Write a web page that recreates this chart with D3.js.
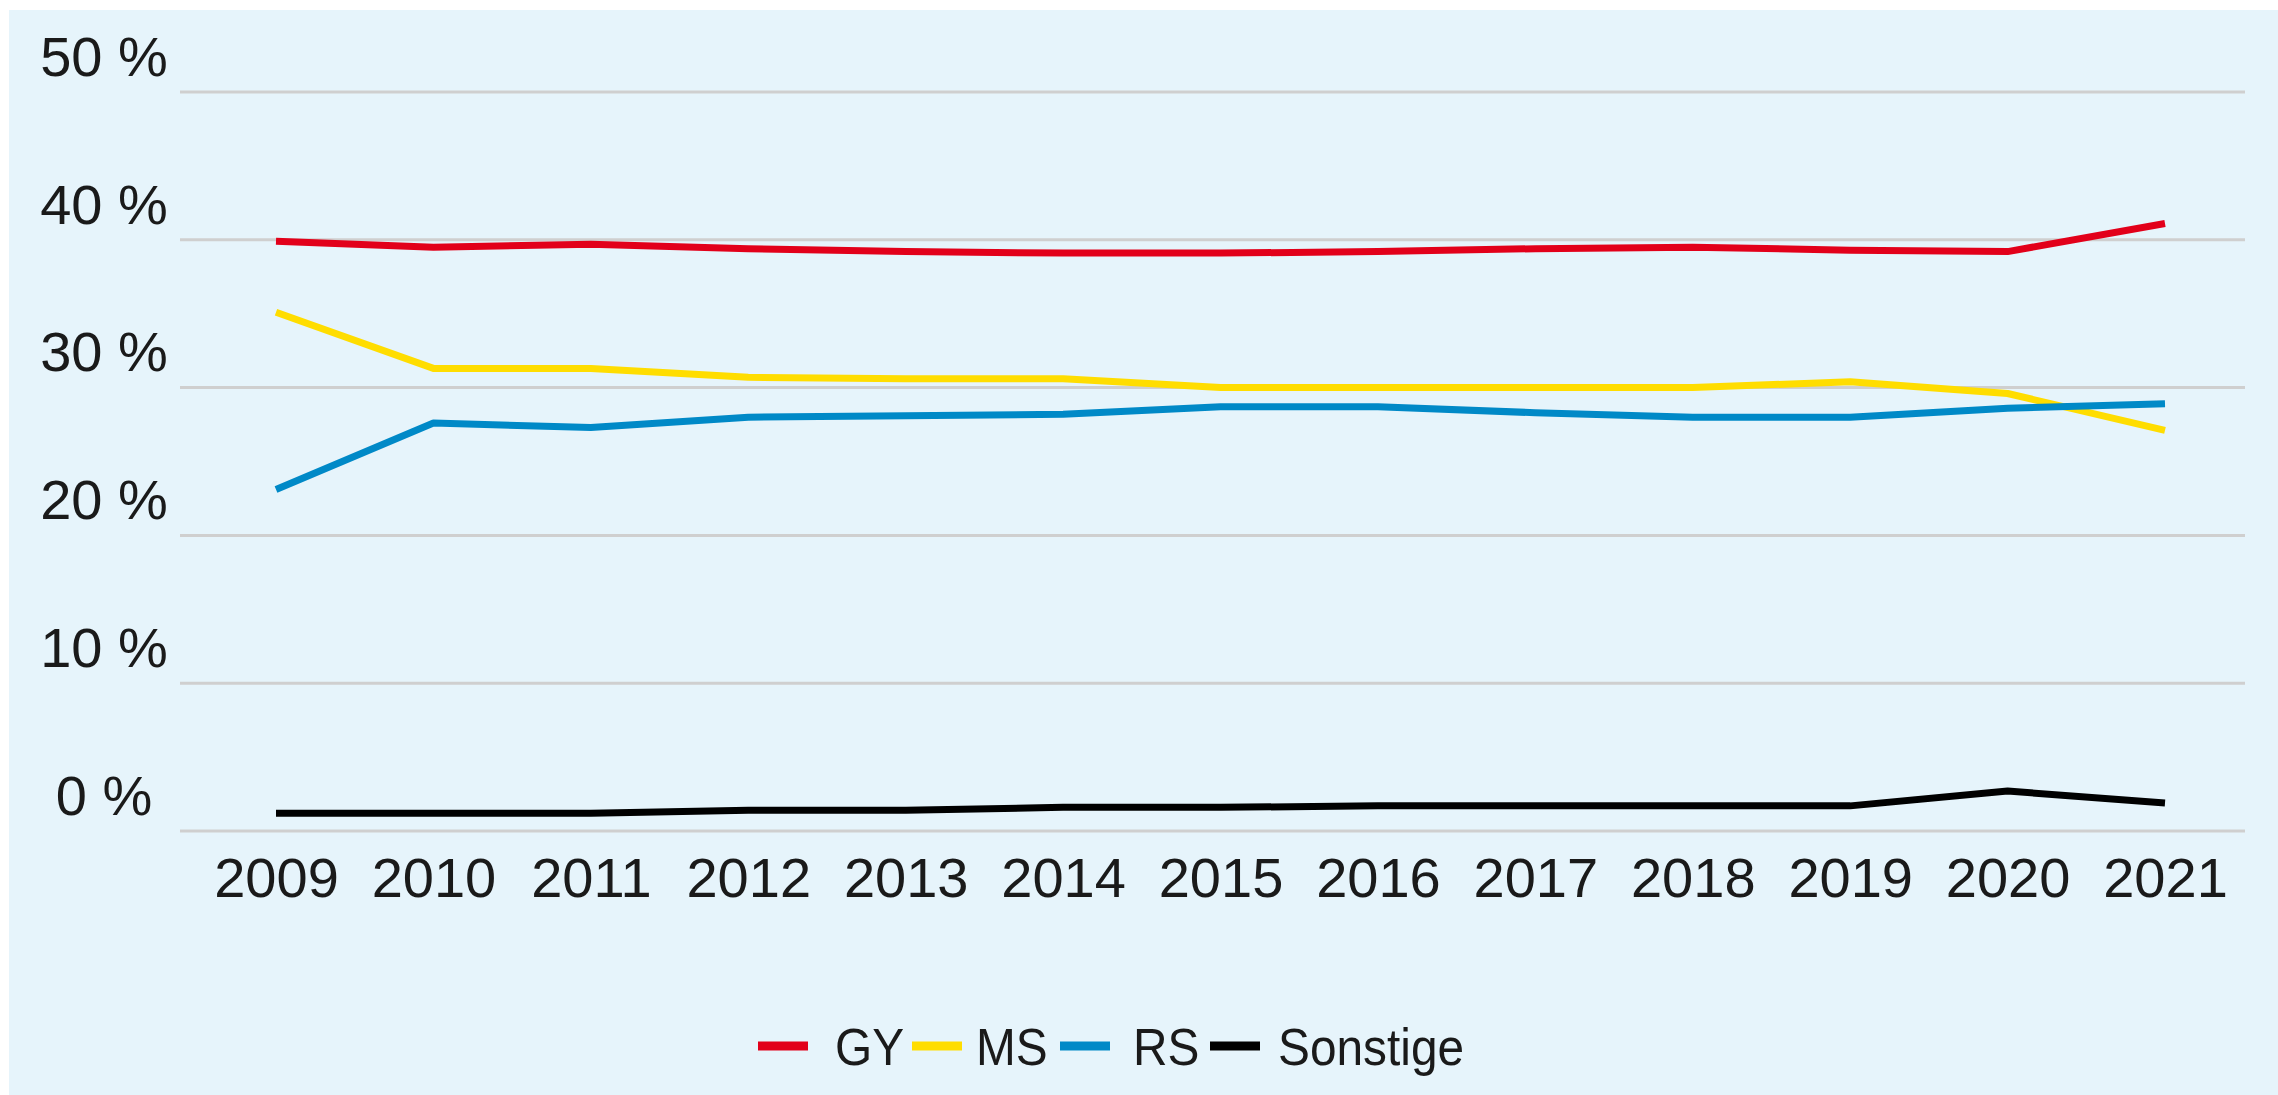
<!DOCTYPE html>
<html>
  <head>
    <title>Schularten</title>
    <script src="https://cdn.jsdelivr.net/npm/d3@7"></script>
    <style>
      body { margin: 0; background: #fff; }
      text { font-family: 'Liberation Sans', Arial, sans-serif; fill: #1a1a1a; }
    </style>
  </head>
  <body>
    <svg width="2278" height="1095" id="mainsvg"></svg>
    <script>
        const years = [2009, 2010, 2011, 2012, 2013, 2014, 2015, 2016, 2017, 2018, 2019, 2020, 2021];
        const gy = [39.9, 39.5, 39.7, 39.4, 39.2, 39.1, 39.1, 39.2, 39.4, 39.5, 39.3, 39.2, 41.1];
        const ms = [35.1, 31.3, 31.3, 30.7, 30.6, 30.6, 30.0, 30.0, 30.0, 30.0, 30.4, 29.6, 27.1];
        const rs = [23.1, 27.6, 27.3, 28.0, 28.1, 28.2, 28.7, 28.7, 28.3, 28.0, 28.0, 28.6, 28.9];
        const sonstige = [1.2, 1.2, 1.2, 1.4, 1.4, 1.6, 1.6, 1.7, 1.7, 1.7, 1.7, 2.7, 1.9];
        const yTicks = [0, 10, 20, 30, 40, 50];

        const series = [
          {name: 'GY', values: gy, color: '#e2001a'},
          {name: 'MS', values: ms, color: '#ffdd00'},
          {name: 'RS', values: rs, color: '#0089c7'},
          {name: 'Sonstige', values: sonstige, color: '#000000'}
        ];

        const svg = d3.select('#mainsvg');
        const width = +svg.attr('width');
        const height = +svg.attr('height');

        // light blue panel
        svg.append('rect').attr('x', 9).attr('y', 10)
          .attr('width', width - 9).attr('height', height - 10)
          .attr('fill', '#e6f4fb');

        const margin = {top: 92, right: 33, bottom: 264, left: 180};
        const innerWidth = width - margin.left - margin.right;
        const innerHeight = height - margin.top - margin.bottom;

        const g = svg.append('g')
          .attr('transform', `translate(${margin.left}, ${margin.top})`);

        const xScale = d3.scalePoint()
          .domain(years)
          .range([96, innerWidth - 80]);

        const yScale = d3.scaleLinear()
          .domain([0, 50])
          .range([innerHeight, 0]);

        // gridlines
        g.append('g').selectAll('line').data(yTicks).join('line')
          .attr('x1', 0).attr('x2', innerWidth)
          .attr('y1', d => yScale(d)).attr('y2', d => yScale(d))
          .attr('stroke', '#cfcfcf').attr('stroke-width', 3);

        // y axis: labels centred in the left margin, above their gridlines
        const yAxis = d3.axisLeft(yScale).tickValues(yTicks)
          .tickSize(0).tickPadding(0).tickFormat(d => d + ' %');
        const yg = g.append('g').call(yAxis);
        yg.select('.domain').remove();
        yg.selectAll('.tick text')
          .attr('x', -76)
          .attr('text-anchor', 'middle')
          .attr('font-size', 56).attr('dy', '-0.3em')
          .attr('fill', '#1a1a1a');

        // x axis
        const xAxis = d3.axisBottom(xScale).tickSize(0).tickPadding(26);
        const xg = g.append('g').attr('transform', `translate(0, ${innerHeight})`).call(xAxis);
        xg.select('.domain').remove();
        xg.selectAll('.tick text').attr('font-size', 56).attr('fill', '#1a1a1a');

        const line = d3.line()
          .x((d, i) => xScale(years[i]))
          .y(d => yScale(d));

        series.forEach(s => {
          g.append('path')
            .datum(s.values)
            .attr('d', line)
            .attr('fill', 'none')
            .attr('stroke', s.color)
            .attr('stroke-width', 7)
            .attr('stroke-linejoin', 'round');
        });

        // legend
        const swatchX = [758, 912, 1060, 1210];
        const labelX = [835, 976, 1133, 1278];
        const legend = svg.append('g').attr('transform', 'translate(0, 1046)');
        series.forEach((s, i) => {
          legend.append('line')
            .attr('x1', swatchX[i]).attr('x2', swatchX[i] + 50)
            .attr('y1', 0).attr('y2', 0)
            .attr('stroke', s.color).attr('stroke-width', 9);
          legend.append('text')
            .attr('transform', `translate(${labelX[i]}, 0) scale(0.92, 1)`)
            .attr('dy', '0.36em')
            .attr('font-size', 52)
            .text(s.name);
        });
    </script>
  </body>
</html>
